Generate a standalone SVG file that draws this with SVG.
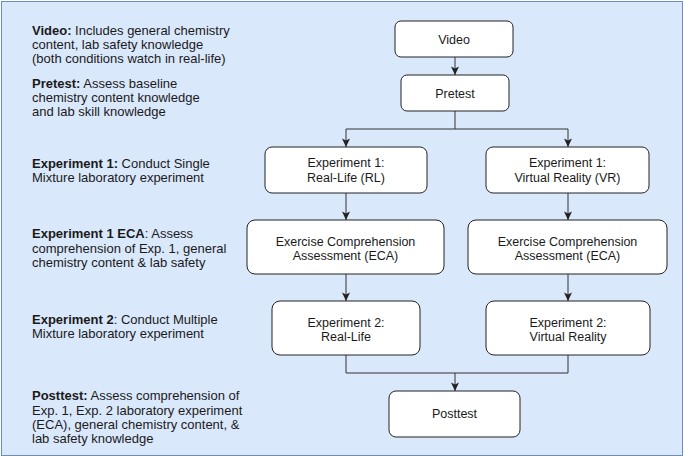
<svg xmlns="http://www.w3.org/2000/svg" width="685" height="458" viewBox="0 0 685 458">
<defs>
<marker id="arr" markerUnits="userSpaceOnUse" markerWidth="10" markerHeight="10" viewBox="0 0 10 10" refX="9" refY="5" orient="auto">
<path d="M0.5,1 L9,5 L0.5,9 L2.5,5 Z" fill="#222"/>
</marker>
</defs>
<style>
text{font-family:"Liberation Sans",Arial,sans-serif;font-size:13px;fill:#1a1a1a}
.l{text-anchor:start}
.c{text-anchor:middle;font-size:12.5px}
.b{font-weight:bold}
.box{fill:#fff;stroke:#222;stroke-width:1}
.cn{fill:none;stroke:#333;stroke-width:1}
</style>
<rect x="1.5" y="1.5" width="681" height="454" fill="#dae8fc" stroke="#6c8ebf" stroke-width="1"/>
<g id="legend">
<text class="l" x="32" y="34.5"><tspan class="b">Video:</tspan> Includes general chemistry</text>
<text class="l" x="32" y="48.5">content, lab safety knowledge</text>
<text class="l" x="32" y="62.5">(both conditions watch in real-life)</text>
<text class="l" x="32" y="87.5"><tspan class="b">Pretest:</tspan> Assess baseline</text>
<text class="l" x="32" y="101.5">chemistry content knowledge</text>
<text class="l" x="32" y="116">and lab skill knowledge</text>
<text class="l" x="32" y="167.5"><tspan class="b">Experiment 1:</tspan> Conduct Single</text>
<text class="l" x="32" y="182">Mixture laboratory experiment</text>
<text class="l" x="32" y="238"><tspan class="b">Experiment 1 ECA</tspan>: Assess</text>
<text class="l" x="32" y="252.5">comprehension of Exp. 1, general</text>
<text class="l" x="32" y="267">chemistry content &amp; lab safety</text>
<text class="l" x="32" y="324"><tspan class="b">Experiment 2</tspan>: Conduct Multiple</text>
<text class="l" x="32" y="338">Mixture laboratory experiment</text>
<text class="l" x="32" y="400"><tspan class="b">Posttest:</tspan> Assess comprehension of</text>
<text class="l" x="32" y="414.5">Exp. 1, Exp. 2 laboratory experiment</text>
<text class="l" x="32" y="429">(ECA), general chemistry content, &amp;</text>
<text class="l" x="32" y="443">lab safety knowledge</text>
</g>
<g id="connectors">
<path class="cn" d="M455,57 V75" marker-end="url(#arr)"/>
<path class="cn" d="M455,111 V129 H346 V147" marker-end="url(#arr)"/>
<path class="cn" d="M455,129 H568 V147" marker-end="url(#arr)"/>
<path class="cn" d="M346,193 V220" marker-end="url(#arr)"/>
<path class="cn" d="M568,193 V220" marker-end="url(#arr)"/>
<path class="cn" d="M346,274 V301" marker-end="url(#arr)"/>
<path class="cn" d="M568,274 V301" marker-end="url(#arr)"/>
<path class="cn" d="M346,355 V373 H568 V355"/>
<path class="cn" d="M455,373 V391" marker-end="url(#arr)"/>
</g>
<g id="video">
<rect class="box" x="395" y="21" width="118" height="36" rx="6"/>
<text class="c" x="454" y="43.5">Video</text>
</g>
<g id="pretest">
<rect class="box" x="401" y="75" width="108" height="36" rx="6"/>
<text class="c" x="455" y="97.5">Pretest</text>
</g>
<g id="exp1-rl">
<rect class="box" x="265" y="147" width="162" height="46" rx="7"/>
<text class="c" x="346" y="167">Experiment 1:</text>
<text class="c" x="346" y="181.5">Real-Life (RL)</text>
</g>
<g id="exp1-vr">
<rect class="box" x="486" y="147" width="163" height="46" rx="7"/>
<text class="c" x="567.5" y="167">Experiment 1:</text>
<text class="c" x="567.5" y="181.5">Virtual Reality (VR)</text>
</g>
<g id="eca-rl">
<rect class="box" x="247" y="220" width="197" height="54" rx="8"/>
<text class="c" x="345.5" y="245.5">Exercise Comprehension</text>
<text class="c" x="345.5" y="259.5">Assessment (ECA)</text>
</g>
<g id="eca-vr">
<rect class="box" x="468" y="220" width="199" height="54" rx="8"/>
<text class="c" x="567.5" y="245.5">Exercise Comprehension</text>
<text class="c" x="567.5" y="259.5">Assessment (ECA)</text>
</g>
<g id="exp2-rl">
<rect class="box" x="272" y="301" width="148" height="54" rx="8"/>
<text class="c" x="346" y="326.5">Experiment 2:</text>
<text class="c" x="346" y="340.5">Real-Life</text>
</g>
<g id="exp2-vr">
<rect class="box" x="486" y="301" width="164" height="54" rx="8"/>
<text class="c" x="568" y="326.5">Experiment 2:</text>
<text class="c" x="568" y="340.5">Virtual Reality</text>
</g>
<g id="posttest">
<rect class="box" x="389" y="391" width="131" height="46" rx="7"/>
<text class="c" x="454.5" y="418">Posttest</text>
</g>
</svg>
